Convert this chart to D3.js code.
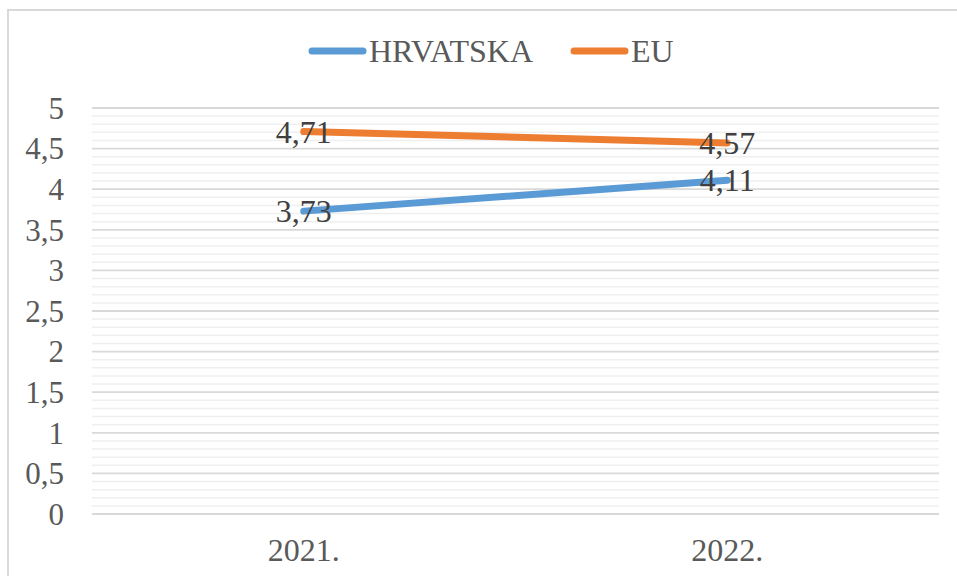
<!DOCTYPE html>
<html><head><meta charset="utf-8">
<script src="https://cdn.jsdelivr.net/npm/d3@7/dist/d3.min.js"></script>
</head><body style="margin:0">
<svg id="c" width="957" height="576" style="font-family: Tinos, 'Times New Roman', 'Liberation Serif', serif"></svg>
<script>
const categories = ["2021.", "2022."];
const seriesNames = ["HRVATSKA", "EU"];
const hrvatska = [3.73, 4.11];
const eu = [4.71, 4.57];
const colors = ["#5b9bd5", "#ed7d31"];
const yTicks = [0, 0.5, 1, 1.5, 2, 2.5, 3, 3.5, 4, 4.5, 5];

const svg = d3.select("#c");
const FF = "Times New Roman";
// outer border
svg.append("rect").attr("x", 8).attr("y", 10).attr("width", 960).attr("height", 580)
  .attr("fill", "none").attr("stroke", "#d9d9d9").attr("stroke-width", 2);

const pL = 92, pR = 939, pT = 108, pB = 514;
const x = d3.scaleBand().domain(categories).range([pL, pR]);
const y = d3.scaleLinear().domain([0, 5]).range([pB, pT]);

// minor gridlines
const minor = d3.range(0, 50).map(i => i / 10).filter(v => Math.round(v * 10) % 5 !== 0);
svg.append("g").selectAll("line").data(minor).join("line")
  .attr("x1", pL).attr("x2", pR)
  .attr("y1", d => y(d)).attr("y2", d => y(d))
  .attr("stroke", "#efefef").attr("stroke-width", 1.5);
// major gridlines
svg.append("g").selectAll("line").data(yTicks).join("line")
  .attr("x1", pL).attr("x2", pR)
  .attr("y1", d => y(d)).attr("y2", d => y(d))
  .attr("stroke", "#d9d9d9").attr("stroke-width", 1.8);

// y axis labels
const fmt = v => String(v).replace(".", ",");
svg.append("g").selectAll("text").data(yTicks).join("text")
  .attr("x", 64).attr("y", d => y(d)).attr("dy", "0.35em")
  .attr("text-anchor", "end").style("font-family", FF).attr("font-size", 31)
  .attr("fill", "#595959").text(fmt);

// x axis labels
svg.append("g").selectAll("text").data(categories).join("text")
  .attr("x", d => x(d) + x.bandwidth() / 2).attr("y", 561)
  .attr("text-anchor", "middle").style("font-family", FF).attr("font-size", 32)
  .attr("fill", "#595959").text(d => d);

const series = [hrvatska, eu];
const line = d3.line().x((d, i) => x(categories[i]) + x.bandwidth() / 2).y(d => y(d));
series.forEach((s, k) => {
  svg.append("path").datum(s).attr("d", line).attr("fill", "none")
    .attr("stroke", colors[k]).attr("stroke-width", 7).attr("stroke-linecap", "round");
});
series.forEach((s, k) => {
  svg.append("g").selectAll("text").data(s).join("text")
    .attr("x", (d, i) => x(categories[i]) + x.bandwidth() / 2)
    .attr("y", d => y(d)).attr("dy", "0.35em")
    .attr("text-anchor", "middle").style("font-family", FF).attr("font-size", 32)
    .attr("fill", "#404040").text(d => d.toFixed(2).replace(".", ","));
});

// legend
const legX = [309, 571];
seriesNames.forEach((n, k) => {
  svg.append("line").attr("x1", legX[k] + 3).attr("x2", legX[k] + 54)
    .attr("y1", 51).attr("y2", 51).attr("stroke", colors[k]).attr("stroke-width", 7)
    .attr("stroke-linecap", "round");
  svg.append("text").attr("x", legX[k] + 60).attr("y", 51).attr("dy", "0.35em")
    .style("font-family", FF).attr("font-size", 32).attr("fill", "#595959").text(n);
});
</script>
</body></html>
